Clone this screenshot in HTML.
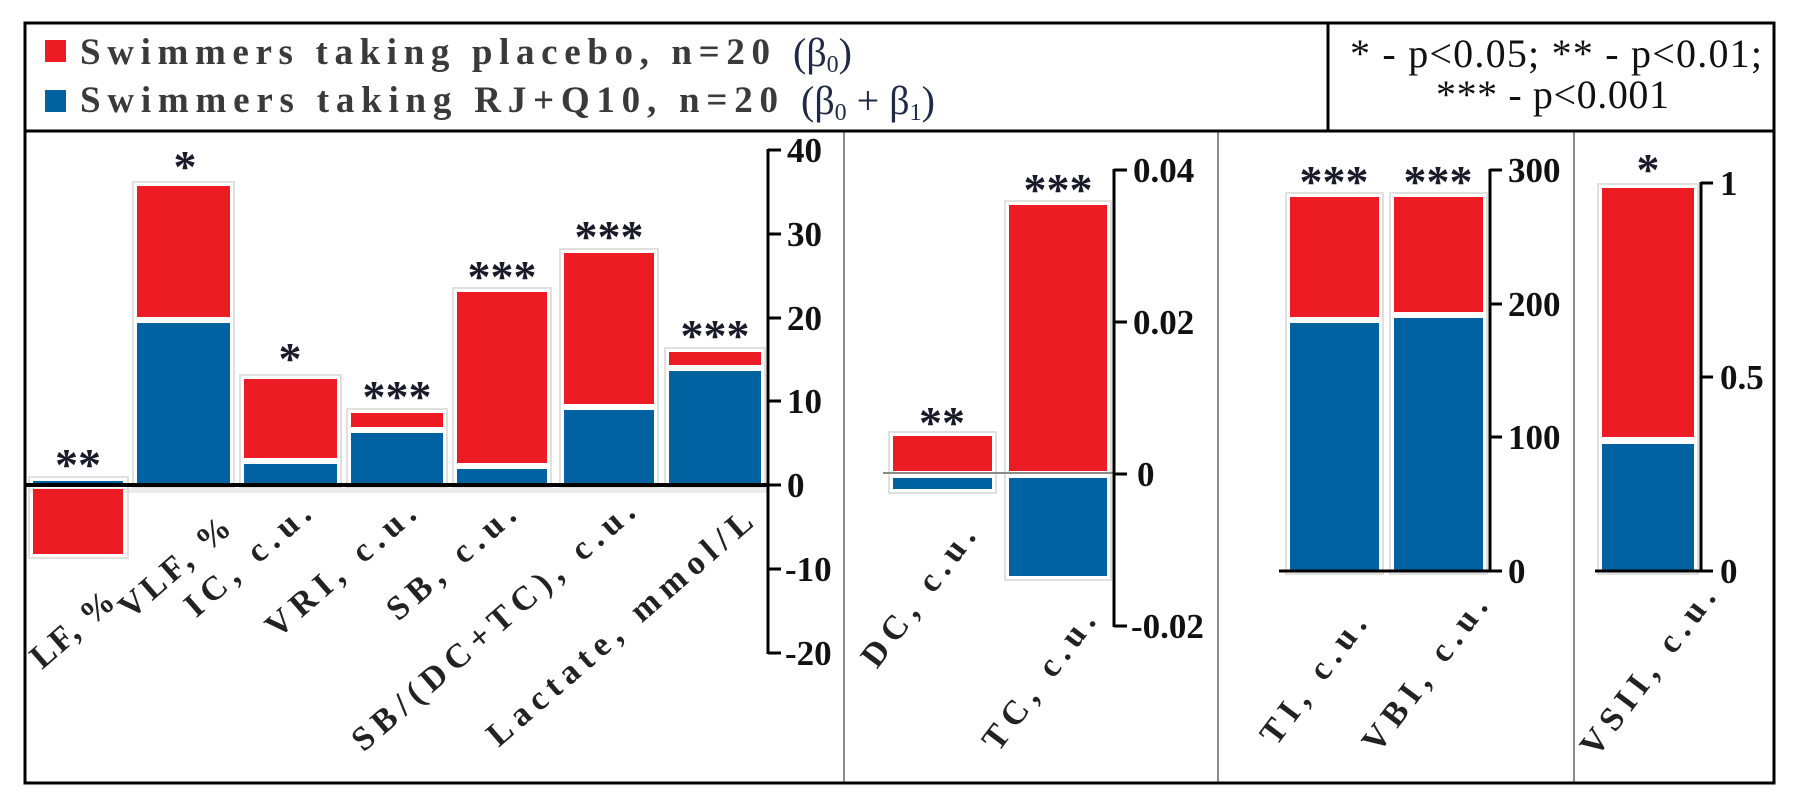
<!DOCTYPE html>
<html><head><meta charset="utf-8"><style>
html,body{margin:0;padding:0;background:#fff;}
svg{display:block;}
.tk{font-family:"Liberation Serif",serif;font-weight:bold;font-size:35px;fill:#111;}
.st{font-family:"Liberation Serif",serif;font-weight:bold;font-size:46px;fill:#1a1a2a;text-anchor:middle;}
.cl{font-family:"Liberation Serif",serif;font-weight:bold;font-size:34px;fill:#222;letter-spacing:7px;text-anchor:end;}
.lg{font-family:"Liberation Serif",serif;font-weight:bold;font-size:37px;fill:#3a3a3a;}
.bt{font-family:"Liberation Serif",serif;font-size:40px;fill:#1f2a44;}
.pv{font-family:"Liberation Serif",serif;font-size:40px;fill:#111;}
</style></head><body>
<svg width="1804" height="800" viewBox="0 0 1804 800" xmlns="http://www.w3.org/2000/svg">
<rect width="1804" height="800" fill="#fff"/>

<!-- panel dividers -->
<g stroke="#8c8c8c" stroke-width="2">
<line x1="844" y1="131" x2="844" y2="783"/>
<line x1="1218" y1="131" x2="1218" y2="783"/>
<line x1="1574" y1="131" x2="1574" y2="783"/>
</g>

<!-- bar shadows -->
<g fill="none" stroke="#e0e0e0" stroke-width="2">
<rect x="29" y="477" width="99" height="81"/>
<rect x="133" y="182" width="101" height="305"/>
<rect x="240" y="375" width="101" height="112"/>
<rect x="347" y="409" width="100" height="78"/>
<rect x="453" y="288" width="98" height="199"/>
<rect x="560" y="249" width="98" height="238"/>
<rect x="665" y="348" width="100" height="139"/>
<rect x="889" y="432" width="107" height="61"/>
<rect x="1005" y="201" width="106" height="379"/>
<rect x="1286" y="193" width="97" height="381"/>
<rect x="1390" y="193" width="97" height="381"/>
<rect x="1598" y="184" width="100" height="390"/>
</g>
<g fill="#d0d0d0" opacity="0.4">
<rect x="30" y="488" width="738" height="5"/>
</g>

<!-- Panel 1 bars -->
<g>
<rect x="33" y="481" width="90" height="3" fill="#0062A0"/>
<rect x="33" y="489" width="90" height="65" fill="#ED1C24"/>

<rect x="137" y="186" width="93" height="131" fill="#ED1C24"/>
<rect x="137" y="323" width="93" height="161" fill="#0062A0"/>

<rect x="244" y="379" width="93" height="79" fill="#ED1C24"/>
<rect x="244" y="464" width="93" height="20" fill="#0062A0"/>

<rect x="351" y="413" width="92" height="14" fill="#ED1C24"/>
<rect x="351" y="433" width="92" height="51" fill="#0062A0"/>

<rect x="457" y="292" width="90" height="171" fill="#ED1C24"/>
<rect x="457" y="469" width="90" height="15" fill="#0062A0"/>

<rect x="564" y="253" width="90" height="151" fill="#ED1C24"/>
<rect x="564" y="410" width="90" height="74" fill="#0062A0"/>

<rect x="669" y="352" width="92" height="13" fill="#ED1C24"/>
<rect x="669" y="371" width="92" height="113" fill="#0062A0"/>
</g>
<!-- zero line panel 1 -->
<line x1="25" y1="485" x2="769" y2="485" stroke="#000" stroke-width="4"/>

<!-- Panel 1 axis -->
<g stroke="#000" stroke-width="3">
<line x1="768" y1="149" x2="768" y2="654"/>
<line x1="768" y1="150" x2="781" y2="150"/>
<line x1="768" y1="234" x2="781" y2="234"/>
<line x1="768" y1="318" x2="781" y2="318"/>
<line x1="768" y1="401" x2="781" y2="401"/>
<line x1="768" y1="485" x2="781" y2="485"/>
<line x1="768" y1="569" x2="781" y2="569"/>
<line x1="768" y1="653" x2="781" y2="653"/>
</g>
<g class="tk">
<text x="787" y="162">40</text>
<text x="787" y="246">30</text>
<text x="787" y="330">20</text>
<text x="787" y="413">10</text>
<text x="787" y="497">0</text>
<text x="785" y="581">-10</text>
<text x="785" y="665">-20</text>
</g>

<!-- Panel 2 -->
<line x1="883" y1="473" x2="1114" y2="473" stroke="#8a8a8a" stroke-width="2"/>
<rect x="893" y="436" width="99" height="35" fill="#ED1C24"/>
<rect x="893" y="478" width="99" height="11" fill="#0062A0"/>
<rect x="1009" y="205" width="98" height="266" fill="#ED1C24"/>
<rect x="1009" y="478" width="98" height="98" fill="#0062A0"/>
<g stroke="#000" stroke-width="3">
<line x1="1114" y1="169" x2="1114" y2="627"/>
<line x1="1114" y1="170" x2="1127" y2="170"/>
<line x1="1114" y1="322" x2="1127" y2="322"/>
<line x1="1114" y1="474" x2="1127" y2="474"/>
<line x1="1114" y1="626" x2="1127" y2="626"/>
</g>
<g class="tk">
<text x="1133" y="182">0.04</text>
<text x="1133" y="334">0.02</text>
<text x="1137" y="486">0</text>
<text x="1131" y="638">-0.02</text>
</g>

<!-- Panel 3 -->
<rect x="1290" y="197" width="89" height="120" fill="#ED1C24"/>
<rect x="1290" y="323" width="89" height="247" fill="#0062A0"/>
<rect x="1394" y="197" width="89" height="115" fill="#ED1C24"/>
<rect x="1394" y="318" width="89" height="252" fill="#0062A0"/>
<g stroke="#000" stroke-width="3">
<line x1="1279" y1="571" x2="1502" y2="571"/>
<line x1="1490" y1="169" x2="1490" y2="572"/>
<line x1="1490" y1="170" x2="1502" y2="170"/>
<line x1="1490" y1="304" x2="1502" y2="304"/>
<line x1="1490" y1="437" x2="1502" y2="437"/>
</g>
<g class="tk">
<text x="1508" y="182">300</text>
<text x="1508" y="316">200</text>
<text x="1508" y="449">100</text>
<text x="1508" y="583">0</text>
</g>

<!-- Panel 4 -->
<rect x="1602" y="188" width="92" height="249" fill="#ED1C24"/>
<rect x="1602" y="444" width="92" height="126" fill="#0062A0"/>
<g stroke="#000" stroke-width="3">
<line x1="1595" y1="571" x2="1713" y2="571"/>
<line x1="1701" y1="182" x2="1701" y2="572"/>
<line x1="1701" y1="183" x2="1713" y2="183"/>
<line x1="1701" y1="377" x2="1713" y2="377"/>
</g>
<g class="tk">
<text x="1720" y="195">1</text>
<text x="1720" y="389">0.5</text>
<text x="1720" y="583">0</text>
</g>

<!-- significance stars -->
<g class="st">
<text x="78" y="480">**</text>
<text x="185" y="182">*</text>
<text x="290" y="374">*</text>
<text x="397" y="412">***</text>
<text x="502" y="292">***</text>
<text x="609" y="252">***</text>
<text x="715" y="351">***</text>
<text x="942" y="438">**</text>
<text x="1058" y="205">***</text>
<text x="1334" y="197">***</text>
<text x="1438" y="197">***</text>
<text x="1648" y="185">*</text>
</g>

<!-- category labels -->
<g class="cl">
<text transform="translate(117,605) rotate(-41)" x="2" style="letter-spacing:2px">LF, %</text>
<text transform="translate(233,531) rotate(-41)" x="4" style="letter-spacing:4px">VLF, %</text>
<text transform="translate(313,517) rotate(-41)" x="7">IC, c.u.</text>
<text transform="translate(418,517) rotate(-41)" x="7">VRI, c.u.</text>
<text transform="translate(518,518) rotate(-41)" x="7">SB, c.u.</text>
<text transform="translate(637,515) rotate(-41)" x="7">SB/(DC+TC), c.u.</text>
<text transform="translate(755,525) rotate(-41)" x="7">Lactate, mmol/L</text>
<text transform="translate(977,537) rotate(-53)" x="7">DC, c.u.</text>
<text transform="translate(1097,622) rotate(-53)" x="7">TC, c.u.</text>
<text transform="translate(1368,625) rotate(-53)" x="7">TI, c.u.</text>
<text transform="translate(1489,607) rotate(-53)" x="7">VBI, c.u.</text>
<text transform="translate(1717,598) rotate(-53)" x="7">VSII, c.u.</text>
</g>

<!-- legend -->
<rect x="45" y="40" width="21" height="22" fill="#ED1C24"/>
<rect x="45" y="90" width="21" height="22" fill="#0062A0"/>
<text class="lg" x="80" y="64" textLength="690" lengthAdjust="spacing">Swimmers taking placebo, n=20</text>
<text class="lg" x="80" y="112" textLength="698" lengthAdjust="spacing">Swimmers taking RJ+Q10, n=20</text>
<text class="bt" x="793" y="66">(β<tspan font-size="24" dy="6">0</tspan><tspan dy="-6">)</tspan></text>
<text class="bt" x="801" y="114">(β<tspan font-size="24" dy="6">0</tspan><tspan dy="-6"> + β</tspan><tspan font-size="24" dy="6">1</tspan><tspan dy="-6">)</tspan></text>

<text class="pv" x="1350" y="67" textLength="412" lengthAdjust="spacing">* - p&lt;0.05; ** - p&lt;0.01;</text>
<text class="pv" x="1436" y="108" textLength="233" lengthAdjust="spacing">*** - p&lt;0.001</text>

<!-- frame -->
<g stroke="#000" stroke-width="3" fill="none">
<rect x="25" y="23" width="1749" height="760"/>
<line x1="25" y1="131" x2="1774" y2="131"/>
<line x1="1328" y1="23" x2="1328" y2="131"/>
</g>
</svg>
</body></html>
